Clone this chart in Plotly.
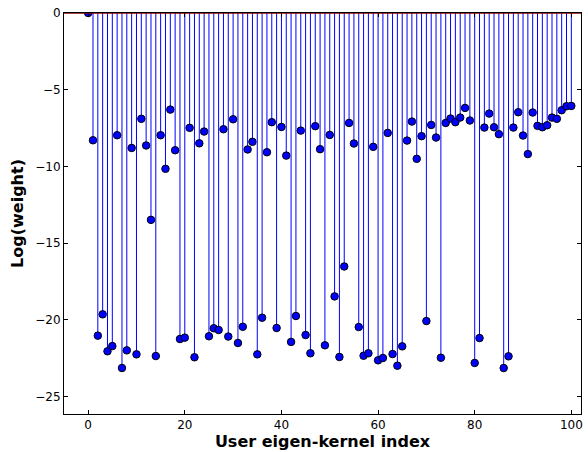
import plotly.graph_objects as go

index = list(range(101))
log_weight = [
    0.0, -8.3, -21.04, -19.65, -22.06, -21.72, -7.97, -23.15, -22.0, -8.8,
    -22.26, -6.9, -8.64, -13.49, -22.37, -7.97, -10.16, -6.3, -8.95, -21.26,
    -21.17, -7.49, -22.45, -8.5, -7.73, -21.08, -20.56, -20.67, -7.58, -21.1,
    -6.93, -21.52, -20.46, -8.9, -8.4, -22.26, -19.87, -9.08, -7.12, -20.54,
    -7.43, -9.3, -21.45, -19.76, -7.67, -21.0, -22.19, -7.38, -8.88, -21.67,
    -7.95, -18.48, -22.43, -16.53, -7.17, -8.51, -20.48, -22.35, -22.19, -8.73,
    -22.65, -22.5, -7.82, -22.24, -23.0, -21.74, -8.32, -7.08, -9.51, -8.03,
    -20.09, -7.3, -8.12, -22.48, -7.17, -6.88, -7.12, -6.82, -6.19, -7.01,
    -22.82, -21.2, -7.47, -6.56, -7.45, -7.9, -23.15, -22.39, -7.47, -6.47,
    -7.99, -9.2, -6.49, -7.36, -7.45, -7.32, -6.82, -6.9, -6.34, -6.08,
    -6.06,
]
x_ticks = [0, 20, 40, 60, 80, 100]
y_ticks = [0, -5, -10, -15, -20, -25]
y_tick_text = ["0", "\u22125", "\u221210", "\u221215", "\u221220", "\u221225"]

stem_x, stem_y = [], []
for xi, yi in zip(index, log_weight):
    stem_x += [xi, xi, None]
    stem_y += [0, yi, None]

fig = go.Figure()
fig.add_trace(go.Scatter(x=stem_x, y=stem_y, mode="lines",
                         line=dict(color="#0000ff", width=1),
                         hoverinfo="skip", showlegend=False))
fig.add_trace(go.Scatter(x=index, y=log_weight, mode="markers",
                         marker=dict(color="#0000ff", size=7.5,
                                     line=dict(color="black", width=1)),
                         showlegend=False))
fig.add_shape(type="line", xref="paper", yref="y", x0=0, x1=1, y0=0, y1=0,
              line=dict(color="#8b0000", width=1.5), layer="above")

axis_common = dict(showgrid=False, zeroline=False, showline=True,
                   linecolor="black", linewidth=1, mirror="allticks",
                   ticks="inside", ticklen=4, tickwidth=1, tickcolor="black",
                   tickfont=dict(family="DejaVu Sans", size=12, color="black"))

fig.update_xaxes(range=[-5, 102], tickvals=x_ticks,
                 title=dict(text="User eigen-kernel index", standoff=3,
                            font=dict(family="DejaVu Sans", size=16,
                                      color="black", weight="bold")),
                 **axis_common)
fig.update_yaxes(range=[-26.15, 0], tickvals=y_ticks, ticktext=y_tick_text,
                 title=dict(text="Log(weight)", standoff=7,
                            font=dict(family="DejaVu Sans", size=16,
                                      color="black", weight="bold")),
                 **axis_common)

fig.update_layout(width=588, height=452,
                  margin=dict(l=64, r=5, t=13, b=38),
                  paper_bgcolor="white", plot_bgcolor="white",
                  font=dict(family="DejaVu Sans", color="black"))

fig.write_html("out.html")
